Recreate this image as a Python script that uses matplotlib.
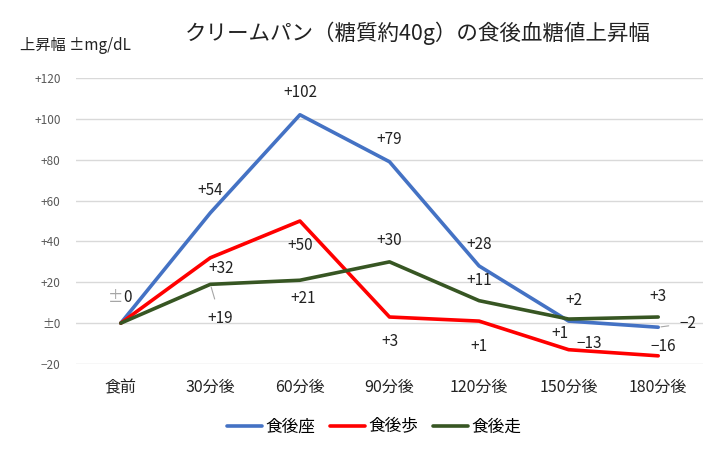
import matplotlib
matplotlib.use("Agg")
import matplotlib.pyplot as plt

plt.rcParams["font.family"] = ["Noto Sans CJK JP", "DejaVu Sans"]

# data
categories = ["食前", "30分後", "60分後", "90分後", "120分後", "150分後", "180分後"]
series_names = ["食後座", "食後歩", "食後走"]
sitting = [0, 54, 102, 79, 28, 1, -2]
walking = [0, 32, 50, 3, 1, -13, -16]
running = [0, 19, 21, 30, 11, 2, 3]
yticks = [-20, 0, 20, 40, 60, 80, 100, 120]

colors = ["#4472C4", "#FF0000", "#375623"]

# label offsets in pixels (dx, dy up), None = no label
offsets = [
    [None, (0, 22), (0, 22), (0, 22), (0, 21), (-9, -12), (30, 4)],
    [None, (11, -11), (0, -24), (0, -24), (0, -25), (21, 6), (5, 9)],
    [(0, 26), (10, -34), (3, -18), (0, 21), (0, 20), (5, 19), (0, 21)],
]
leaders = {(0, 6), (2, 1)}


def fmt(v):
    if v > 0:
        return f"+{v}"
    if v < 0:
        return f"\u2212{-v}"
    return "±0"


fig = plt.figure(figsize=(7.21, 4.61), dpi=100)
ax = fig.add_axes([76 / 721, 1 - 364 / 461, (703 - 76) / 721, (364 - 78) / 461])

x = list(range(len(categories)))
for si, (name, vals) in enumerate(zip(series_names, [sitting, walking, running])):
    ax.plot(x, vals, color=colors[si], lw=2.6, label=name, zorder=3,
            solid_capstyle="round", solid_joinstyle="round")
    for i, v in enumerate(vals):
        off = offsets[si][i]
        if off is None:
            continue
        dx, dy = off[0] * 0.72, off[1] * 0.72
        if v == 0:
            ax.annotate("±", (i, v), xytext=(dx - 4, dy), textcoords="offset points",
                        ha="center", va="center", fontsize=11, color="#A6A6A6")
            ax.annotate("0", (i, v), xytext=(dx + 5, dy), textcoords="offset points",
                        ha="center", va="center", fontsize=11, color="#222222")
            continue
        arrow = None
        if (si, i) in leaders:
            arrow = dict(arrowstyle="-", color="#A6A6A6", lw=0.8, shrinkA=6, shrinkB=2)
        ax.annotate(fmt(v), (i, v), xytext=(dx, dy), textcoords="offset points",
                    ha="center", va="center", fontsize=11, color="#222222",
                    arrowprops=arrow)

ax.set_xlim(-0.5, len(categories) - 0.5)
ax.set_ylim(-20, 120)
ax.set_yticks(yticks)
ax.set_yticklabels([fmt(t) for t in yticks], fontsize=8.5, color="#595959")
ax.set_xticks(x)
ax.set_xticklabels(categories, fontsize=11.5, color="#222222")
ax.tick_params(length=0, axis="y", pad=11)
ax.tick_params(length=0, axis="x", pad=11)
ax.grid(axis="y", color="#D9D9D9", lw=1)
ax.set_axisbelow(True)
for s in ax.spines.values():
    s.set_visible(False)

fig.text(418 / 721, 1 - 33 / 461, "クリームパン（糖質約40g）の食後血糖値上昇幅",
         ha="center", va="center", fontsize=15.5, color="#222222")
fig.text(20 / 721, 1 - 45 / 461, "上昇幅 ±mg/dL", ha="left", va="center",
         fontsize=11, color="#222222")

fig.legend(loc="center", bbox_to_anchor=(374 / 721, 1 - 427 / 461), ncol=3, frameon=False,
           fontsize=12, handlelength=2.1, columnspacing=0.9, handletextpad=0.2)

fig.savefig("out.png", dpi=100)
